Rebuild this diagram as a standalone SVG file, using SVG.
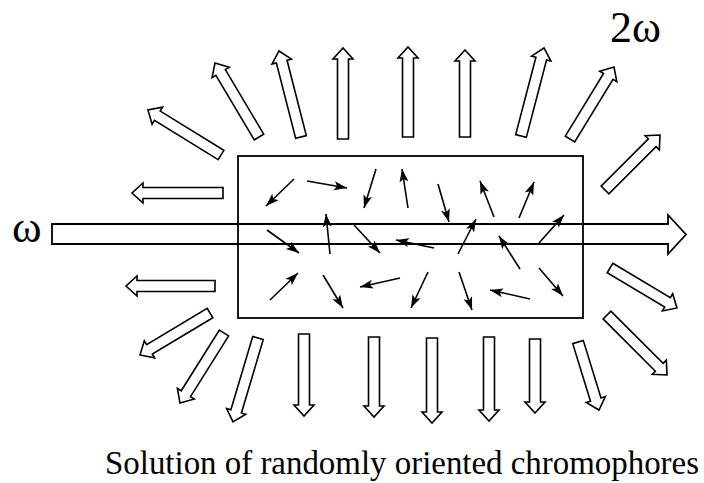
<svg xmlns="http://www.w3.org/2000/svg" width="704" height="483" viewBox="0 0 704 483">
<style>
.ha{fill:#fff;stroke:#000;stroke-width:1.6;stroke-linejoin:miter}
.sm{stroke:#000;stroke-width:1.6;fill:none}
</style>
<defs>
<marker id="ah" markerUnits="userSpaceOnUse" markerWidth="14" markerHeight="10" refX="13" refY="4.5" orient="auto">
<path d="M0,0 L13,4.5 L0,9 L3,4.5 Z" fill="#000"/>
</marker>
</defs>
<rect width="704" height="483" fill="#fff"/>
<g id="sample">
<rect x="238" y="156" width="345" height="162" fill="none" stroke="#000" stroke-width="1.8"/>
</g>
<g id="beam">
<path d="M52,224 H668 V215 L686,234.5 L668,254 V244 H52 Z" fill="none" stroke="#000" stroke-width="1.8"/>
</g>
<g id="chromophores" class="sm">
<line x1="294" y1="179" x2="266" y2="206" marker-end="url(#ah)"/>
<line x1="307" y1="181" x2="347" y2="188" marker-end="url(#ah)"/>
<line x1="376" y1="169" x2="364" y2="208" marker-end="url(#ah)"/>
<line x1="408" y1="208" x2="402" y2="169" marker-end="url(#ah)"/>
<line x1="438" y1="184" x2="449" y2="222" marker-end="url(#ah)"/>
<line x1="494" y1="217" x2="480" y2="181" marker-end="url(#ah)"/>
<line x1="519" y1="218" x2="534" y2="182" marker-end="url(#ah)"/>
<line x1="267" y1="230" x2="299" y2="253" marker-end="url(#ah)"/>
<line x1="330" y1="254" x2="326" y2="214" marker-end="url(#ah)"/>
<line x1="354" y1="225" x2="380" y2="253" marker-end="url(#ah)"/>
<line x1="434" y1="248" x2="396" y2="240" marker-end="url(#ah)"/>
<line x1="458" y1="254" x2="476" y2="219" marker-end="url(#ah)"/>
<line x1="520" y1="269" x2="499" y2="236" marker-end="url(#ah)"/>
<line x1="539" y1="243" x2="564" y2="215" marker-end="url(#ah)"/>
<line x1="270" y1="300" x2="298" y2="273" marker-end="url(#ah)"/>
<line x1="323" y1="275" x2="343" y2="308" marker-end="url(#ah)"/>
<line x1="400" y1="278" x2="360" y2="287" marker-end="url(#ah)"/>
<line x1="428" y1="272" x2="411" y2="308" marker-end="url(#ah)"/>
<line x1="459" y1="272" x2="472" y2="310" marker-end="url(#ah)"/>
<line x1="530" y1="299" x2="490" y2="290" marker-end="url(#ah)"/>
<line x1="539" y1="268" x2="563" y2="296" marker-end="url(#ah)"/>
</g>
<g id="emission">
<path class="ha" transform="translate(221,155) rotate(-148.35)" d="M0,-5.5 H74.8 V-10 L85.8,0 L74.8,10 V5.5 H0 Z"/>
<path class="ha" transform="translate(259,137) rotate(-120.74)" d="M0,-5.5 H75.1 V-10 L86.1,0 L75.1,10 V5.5 H0 Z"/>
<path class="ha" transform="translate(301,137) rotate(-104.35)" d="M0,-5.5 H77.8 V-10 L88.8,0 L77.8,10 V5.5 H0 Z"/>
<path class="ha" transform="translate(343,139) rotate(-90)" d="M0,-5.5 H80 V-10 L91,0 L80,10 V5.5 H0 Z"/>
<path class="ha" transform="translate(408,137) rotate(-90)" d="M0,-5.5 H79 V-10 L90,0 L79,10 V5.5 H0 Z"/>
<path class="ha" transform="translate(465,137) rotate(-90)" d="M0,-5.5 H76 V-10 L87,0 L76,10 V5.5 H0 Z"/>
<path class="ha" transform="translate(521,136) rotate(-75.35)" d="M0,-5.5 H80 V-10 L91,0 L80,10 V5.5 H0 Z"/>
<path class="ha" transform="translate(570,139) rotate(-58.57)" d="M0,-5.5 H73.4 V-10 L84.4,0 L73.4,10 V5.5 H0 Z"/>
<path class="ha" transform="translate(605,190) rotate(-45)" d="M0,-5.5 H66.8 V-10 L77.8,0 L66.8,10 V5.5 H0 Z"/>
<path class="ha" transform="translate(223,193) rotate(180)" d="M0,-5.5 H80 V-10 L91,0 L80,10 V5.5 H0 Z"/>
<path class="ha" transform="translate(215,286) rotate(180)" d="M0,-5.5 H78 V-10 L89,0 L78,10 V5.5 H0 Z"/>
<path class="ha" transform="translate(210,313) rotate(149.04)" d="M0,-5.5 H70.6 V-10 L81.6,0 L70.6,10 V5.5 H0 Z"/>
<path class="ha" transform="translate(224,333) rotate(122.15)" d="M0,-5.5 H71.7 V-10 L82.7,0 L71.7,10 V5.5 H0 Z"/>
<path class="ha" transform="translate(258,338) rotate(106.57)" d="M0,-5.5 H76.6 V-10 L87.6,0 L76.6,10 V5.5 H0 Z"/>
<path class="ha" transform="translate(304,334) rotate(90)" d="M0,-5.5 H71 V-10 L82,0 L71,10 V5.5 H0 Z"/>
<path class="ha" transform="translate(374,337) rotate(90)" d="M0,-5.5 H69 V-10 L80,0 L69,10 V5.5 H0 Z"/>
<path class="ha" transform="translate(432,338) rotate(90)" d="M0,-5.5 H74 V-10 L85,0 L74,10 V5.5 H0 Z"/>
<path class="ha" transform="translate(489,337) rotate(90)" d="M0,-5.5 H73 V-10 L84,0 L73,10 V5.5 H0 Z"/>
<path class="ha" transform="translate(535,339) rotate(90)" d="M0,-5.5 H63 V-10 L74,0 L63,10 V5.5 H0 Z"/>
<path class="ha" transform="translate(578,342) rotate(72.84)" d="M0,-5.5 H60.2 V-10 L71.2,0 L60.2,10 V5.5 H0 Z"/>
<path class="ha" transform="translate(607,315) rotate(45)" d="M0,-5.5 H73.9 V-10 L84.9,0 L73.9,10 V5.5 H0 Z"/>
<path class="ha" transform="translate(610,268) rotate(30.84)" d="M0,-5.5 H67 V-10 L78,0 L67,10 V5.5 H0 Z"/>
</g>
<g id="labels" font-family="'Liberation Serif', 'DejaVu Serif', serif" fill="#000">
<text x="12" y="242" font-size="45" font-family="'Liberation Serif', 'DejaVu Serif', serif">ω</text>
<text x="610" y="42" font-size="44" font-family="'Liberation Serif', 'DejaVu Serif', serif">2ω</text>
<text x="105" y="474" font-size="33" font-family="'Liberation Serif', 'DejaVu Serif', serif" textLength="594" lengthAdjust="spacingAndGlyphs">Solution of randomly oriented chromophores</text>
</g>
</svg>
